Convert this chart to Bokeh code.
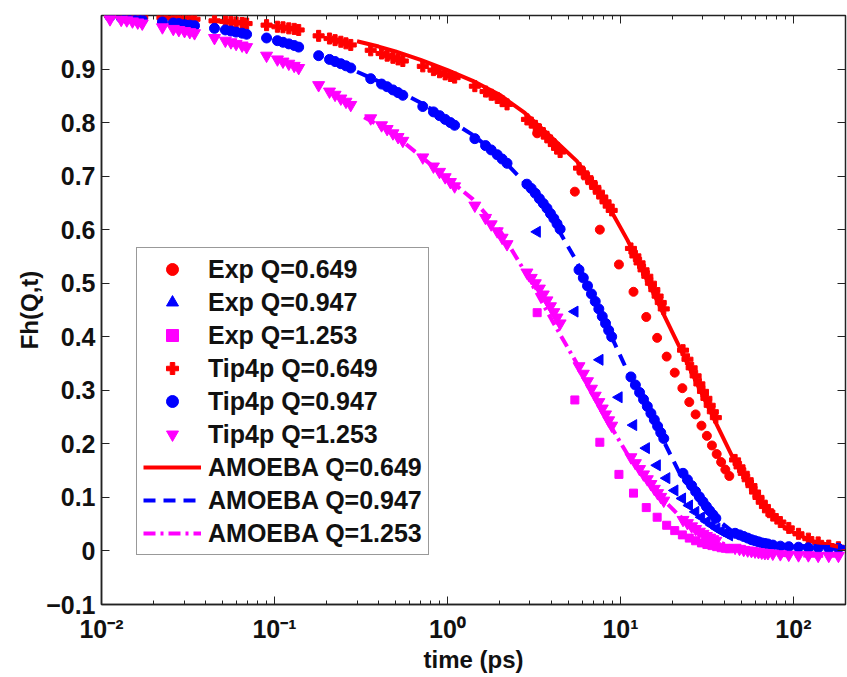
import numpy as np
from bokeh.plotting import figure
from bokeh.models import Range1d, FixedTicker, LinearAxis, LogAxis, Legend, LegendItem
from bokeh.embed import file_html
from bokeh.resources import INLINE

# ---------------- data ----------------
exp_t = [3.3, 5.45, 7.6, 9.8, 11.9, 14.1, 16.3, 18.5, 20.6, 22.8, 25.0, 27.2,
         29.4, 31.6, 33.8, 36.0, 38.2, 40.4, 42.6]
exp_q1 = [0.780, 0.671, 0.600, 0.535, 0.484, 0.437, 0.398, 0.363, 0.333, 0.304,
          0.278, 0.255, 0.234, 0.215, 0.197, 0.181, 0.166, 0.152, 0.140]
exp_q2 = [0.596, 0.447, 0.357, 0.287, 0.235, 0.192, 0.160, 0.136, 0.113, 0.098,
          0.085, 0.073, 0.063, 0.055, 0.048, 0.042, 0.037, 0.033, 0.029]
exp_q3 = [0.445, 0.282, 0.203, 0.143, 0.108, 0.081, 0.063, 0.048, 0.038, 0.030,
          0.024, 0.019, 0.015, 0.012, 0.010, 0.008, 0.006, 0.005, 0.004]

tip_t = [0.0112, 0.0130, 0.0140, 0.0151, 0.0162, 0.0172,
         0.0225, 0.0260, 0.0280, 0.0302, 0.0324, 0.0345,
         0.045, 0.052, 0.056, 0.060, 0.065, 0.069,
         0.090, 0.104, 0.112, 0.121, 0.130, 0.138,
         0.180, 0.208, 0.224, 0.242, 0.259, 0.276,
         0.360, 0.416, 0.448, 0.484, 0.518, 0.552,
         0.72, 0.83, 0.90, 0.97, 1.04, 1.10,
         1.44, 1.66, 1.79, 1.94, 2.07, 2.21,
         2.88, 3.05, 3.22, 3.40, 3.58, 3.76, 3.94, 4.12, 4.30, 4.48,
         5.76, 6.10, 6.45, 6.80, 7.15, 7.50, 7.85, 8.20, 8.55, 8.90,
         11.5, 12.2, 12.9, 13.6, 14.3, 15.0, 15.7, 16.4, 17.1, 17.8,
         23.0, 24.4, 25.8, 27.2, 28.6, 30.0, 31.4, 32.8, 34.2, 35.6,
         46.0, 48.8, 51.6, 54.4, 57.2, 60.0, 62.8, 65.6, 68.4, 71.2,
         76, 84, 94, 107, 122, 139, 160, 182]
tip_q1 = [1.000, 0.999, 0.999, 0.998, 0.998, 0.997,
          0.996, 0.995, 0.995, 0.994, 0.994, 0.993,
          0.990, 0.989, 0.988, 0.987, 0.986, 0.985,
          0.982, 0.979, 0.978, 0.976, 0.975, 0.973,
          0.962, 0.957, 0.954, 0.951, 0.948, 0.945,
          0.935, 0.929, 0.925, 0.921, 0.918, 0.915,
          0.905, 0.898, 0.894, 0.890, 0.887, 0.884,
          0.868, 0.858, 0.852, 0.846, 0.840, 0.834,
          0.806, 0.800, 0.794, 0.787, 0.780, 0.773, 0.766, 0.759, 0.752, 0.745,
          0.715, 0.706, 0.697, 0.688, 0.679, 0.670, 0.661, 0.652, 0.644, 0.636,
          0.565, 0.551, 0.538, 0.525, 0.513, 0.500, 0.488, 0.476, 0.464, 0.452,
          0.375, 0.358, 0.342, 0.327, 0.312, 0.298, 0.285, 0.272, 0.260, 0.249,
          0.170, 0.157, 0.145, 0.133, 0.122, 0.110, 0.100, 0.091, 0.083, 0.075,
          0.066, 0.054, 0.043, 0.032, 0.023, 0.016, 0.010, 0.007]
tip_q2 = [0.998, 0.996, 0.995, 0.994, 0.993, 0.992,
          0.988, 0.986, 0.985, 0.983, 0.982, 0.981,
          0.976, 0.973, 0.971, 0.969, 0.967, 0.965,
          0.958, 0.953, 0.950, 0.947, 0.944, 0.941,
          0.925, 0.918, 0.914, 0.910, 0.906, 0.902,
          0.882, 0.872, 0.867, 0.861, 0.856, 0.851,
          0.830, 0.820, 0.813, 0.806, 0.800, 0.795,
          0.770, 0.757, 0.749, 0.740, 0.732, 0.724,
          0.685, 0.677, 0.668, 0.658, 0.649, 0.640, 0.630, 0.621, 0.611, 0.601,
          0.525, 0.510, 0.495, 0.480, 0.466, 0.452, 0.438, 0.425, 0.412, 0.400,
          0.325, 0.310, 0.296, 0.283, 0.270, 0.257, 0.245, 0.233, 0.221, 0.210,
          0.145, 0.133, 0.122, 0.111, 0.101, 0.092, 0.083, 0.075, 0.068, 0.061,
          0.033, 0.030, 0.027, 0.024, 0.021, 0.019, 0.017, 0.015, 0.014, 0.013,
          0.011, 0.009, 0.008, 0.007, 0.006, 0.006, 0.005, 0.005]
tip_q3 = [0.993, 0.992, 0.991, 0.989, 0.987, 0.985,
          0.978, 0.975, 0.973, 0.971, 0.969, 0.967,
          0.958, 0.953, 0.950, 0.947, 0.944, 0.941,
          0.925, 0.918, 0.914, 0.910, 0.906, 0.902,
          0.870, 0.858, 0.852, 0.845, 0.839, 0.833,
          0.808, 0.795, 0.788, 0.780, 0.773, 0.766,
          0.735, 0.718, 0.708, 0.698, 0.689, 0.681,
          0.645, 0.622, 0.610, 0.597, 0.585, 0.573,
          0.520, 0.510, 0.500, 0.490, 0.479, 0.468, 0.457, 0.446, 0.436, 0.425,
          0.345, 0.331, 0.317, 0.303, 0.290, 0.278, 0.266, 0.255, 0.244, 0.234,
          0.175, 0.164, 0.153, 0.143, 0.134, 0.125, 0.116, 0.108, 0.101, 0.094,
          0.058, 0.052, 0.046, 0.041, 0.036, 0.032, 0.028, 0.025, 0.022, 0.019,
          0.006, 0.004, 0.002, 0.001, 0.000, -0.001, -0.002, -0.003, -0.004, -0.004,
          -0.005, -0.006, -0.007, -0.008, -0.008, -0.009, -0.009, -0.009]

am1_t = [0.3, 0.4, 0.5, 0.7, 1.0, 1.4, 2.0, 2.8, 4.0, 5.6, 8.0, 11, 16, 22, 32, 45, 64, 90, 128, 200]
am1_q = [0.952, 0.942, 0.933, 0.917, 0.898, 0.878, 0.852, 0.818, 0.772, 0.728, 0.660, 0.580,
         0.472, 0.380, 0.270, 0.172, 0.092, 0.042, 0.018, 0.005]
am2_t = [0.3, 0.4, 0.5, 0.7, 1.0, 1.4, 2.0, 2.8, 4.0, 5.6, 8.0, 11, 16, 22, 32, 45, 64, 90, 128, 200]
am2_q = [0.895, 0.877, 0.862, 0.837, 0.807, 0.777, 0.737, 0.688, 0.622, 0.540, 0.432, 0.335,
         0.235, 0.145, 0.072, 0.035, 0.018, 0.011, 0.008, 0.007]
am3_t = [0.33, 0.4, 0.5, 0.7, 1.0, 1.4, 2.0, 2.8, 4.0, 5.6, 8.0, 11, 16, 22, 32, 45, 64, 90, 128, 200]
am3_q = [0.810, 0.795, 0.776, 0.737, 0.696, 0.657, 0.600, 0.522, 0.432, 0.350, 0.255, 0.180,
         0.110, 0.065, 0.025, 0.006, -0.004, -0.008, -0.009, -0.009]

x_ticks = [0.01, 0.1, 1, 10, 100]
x_tick_labels = ["10\u207b\u00b2", "10\u207b\u00b9", "10\u2070", "10\u00b9", "10\u00b2"]
y_ticks = [-0.1, 0, 0.1, 0.2, 0.3, 0.4, 0.5, 0.6, 0.7, 0.8, 0.9]
y_tick_labels = ["\u22120.1", "0", "0.1", "0.2", "0.3", "0.4", "0.5", "0.6", "0.7", "0.8", "0.9"]

RED, BLUE, MAG = "#ff0000", "#0000ff", "#ff00ff"
FONT = "Liberation Sans"
AX = "#222222"

p = figure(width=847, height=677, x_axis_type="log",
           x_range=Range1d(0.01, 200), y_range=Range1d(-0.1, 1.0),
           output_backend="svg", toolbar_location=None,
           min_border_left=101, min_border_right=2, min_border_top=15, min_border_bottom=73)
p.xgrid.visible = False
p.ygrid.visible = False
p.outline_line_color = AX
p.outline_line_width = 1.5
p.background_fill_color = "white"
p.border_fill_color = "white"

minor = [m * 10.0 ** e for e in range(-2, 3) for m in range(2, 10)]
xt = FixedTicker(ticks=x_ticks, minor_ticks=minor)
yt = FixedTicker(ticks=y_ticks, minor_ticks=[])

xa = p.below[0]
ya = p.left[0]
xa.ticker = xt
ya.ticker = yt
xa.major_label_overrides = dict(zip(x_ticks, x_tick_labels))
ya.major_label_overrides = dict(zip(y_ticks, y_tick_labels))
for ax in (xa, ya):
    ax.axis_line_color = AX
    ax.axis_line_width = 1.5
    ax.major_tick_line_color = AX
    ax.minor_tick_line_color = AX
    ax.major_tick_in = 8
    ax.major_tick_out = 0
    ax.minor_tick_in = 4
    ax.minor_tick_out = 0
    ax.major_label_text_font = FONT
    ax.major_label_text_font_style = "bold"
    ax.major_label_text_font_size = "25px"
    ax.major_label_text_color = "#111111"
    ax.axis_label_text_font = FONT
    ax.axis_label_text_font_style = "bold"
    ax.axis_label_text_font_size = "24px"
    ax.axis_label_text_color = "#111111"
xa.axis_label = "time (ps)"
ya.axis_label = "Fh(Q,t)"
xa.major_label_standoff = 10
ya.major_label_standoff = 6
xa.axis_label_standoff = 0
ya.axis_label_standoff = 0

top = LogAxis(ticker=xt, major_label_overrides={v: "" for v in x_ticks},
              major_label_standoff=0,
              major_tick_in=8, major_tick_out=0, minor_tick_in=4, minor_tick_out=0,
              axis_line_color=None, major_tick_line_color=AX, minor_tick_line_color=AX)
right = LinearAxis(ticker=yt, major_label_overrides={v: "" for v in y_ticks},
                   major_label_standoff=0,
                   major_tick_in=8, major_tick_out=0, minor_tick_in=0, minor_tick_out=0,
                   axis_line_color=None, major_tick_line_color=AX)
p.add_layout(top, "above")
p.add_layout(right, "right")

r_exp1 = p.scatter(exp_t, exp_q1, marker="circle", size=9, color=RED)
r_exp2 = p.scatter(exp_t, exp_q2, marker="triangle", angle=np.pi / 2, size=11, color=BLUE)
r_exp3 = p.scatter(exp_t, exp_q3, marker="square", size=8, color=MAG)
r_tip1 = p.scatter(tip_t, tip_q1, marker="plus", size=11, color=RED)
r_tip2 = p.scatter(tip_t, tip_q2, marker="circle", size=10, color=BLUE)
r_tip3 = p.scatter(tip_t, tip_q3, marker="inverted_triangle", size=12, color=MAG)
r_am1 = p.line(am1_t, am1_q, line_color=RED, line_width=4)
r_am2 = p.line(am2_t, am2_q, line_color=BLUE, line_width=4, line_dash="12 8")
r_am3 = p.line(am3_t, am3_q, line_color=MAG, line_width=4, line_dash="12 5 3 5")

legend = Legend(items=[
    LegendItem(label="Exp Q=0.649", renderers=[r_exp1]),
    LegendItem(label="Exp Q=0.947", renderers=[r_exp2]),
    LegendItem(label="Exp Q=1.253", renderers=[r_exp3]),
    LegendItem(label="Tip4p Q=0.649", renderers=[r_tip1]),
    LegendItem(label="Tip4p Q=0.947", renderers=[r_tip2]),
    LegendItem(label="Tip4p Q=1.253", renderers=[r_tip3]),
    LegendItem(label="AMOEBA Q=0.649", renderers=[r_am1]),
    LegendItem(label="AMOEBA Q=0.947", renderers=[r_am2]),
    LegendItem(label="AMOEBA Q=1.253", renderers=[r_am3]),
], location=(35, 49))
legend.label_text_font = FONT
legend.label_text_font_style = "bold"
legend.label_text_font_size = "25px"
legend.label_text_color = "#111111"
legend.glyph_width = 58
legend.glyph_height = 30
legend.spacing = 3
legend.padding = 6
legend.margin = 0
legend.label_standoff = 7
legend.border_line_color = "#333333"
legend.border_line_width = 1
legend.background_fill_alpha = 1.0
p.add_layout(legend)

open("out.html", "w").write(file_html(p, INLINE))
